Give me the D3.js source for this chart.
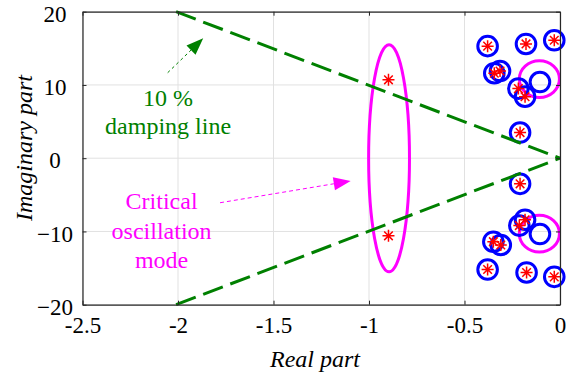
<!DOCTYPE html>
<html>
<head>
<meta charset="utf-8">
<script src="https://cdn.jsdelivr.net/npm/d3@7"></script>
<style>
  body { margin: 0; background: #fff; }
  svg text { font-family: Liberation Serif, DejaVu Serif, Times New Roman, serif; }
</style>
</head>
<body>
<div id="chart"></div>
<script>
'use strict';

// axis ticks
var xTicks = [-2.5, -2, -1.5, -1, -0.5, 0],
    yTicks = [-20, -10, 0, 10, 20];

// eigenvalues without damping control (blue open circles) [real, imag]
var bluePoles = [
    [-0.379, 15.3], [-0.178, 15.6], [-0.030, 16.1],
    [-0.344, 11.6], [-0.314, 11.9], [-0.218, 9.5], [-0.183, 8.4],
    [-0.105, 10.4], [-0.209, 3.5],
    [-0.209, -3.5], [-0.213, -9.2], [-0.183, -8.4], [-0.105, -10.35],
    [-0.349, -11.4], [-0.310, -11.85],
    [-0.379, -15.2], [-0.175, -15.6], [-0.030, -16.2]
];

// eigenvalues with damping control (red asterisks) [real, imag]
var redPoles = [
    [-0.379, 15.3], [-0.178, 15.6], [-0.030, 16.1],
    [-0.344, 11.6], [-0.314, 11.9], [-0.218, 9.5], [-0.183, 8.4],
    [-0.209, 3.5], [-0.898, 10.7],
    [-0.209, -3.5], [-0.213, -9.2], [-0.183, -8.4],
    [-0.349, -11.4], [-0.310, -11.85], [-0.898, -10.6],
    [-0.379, -15.2], [-0.175, -15.6], [-0.030, -16.2]
];

// 10 % damping line: end points [real, imag]
var dampingUpper = [[-2.01, 20], [0, 0]],
    dampingLower = [[-2.01, -20], [0, 0]];

// highlighted modes: [real, imag, real radius, imag radius]
var highlights = [
    [-0.895, 0, 0.107, 15.5],
    [-0.108, 10.8, 0.105, 2.5],
    [-0.108, -10.3, 0.105, 2.5]
];

var outerWidth = 572,
    outerHeight = 375,
    margin = {left: 82.5, right: 12, top: 11.7, bottom: 70.3},
    width = outerWidth - margin.left - margin.right,
    height = outerHeight - margin.top - margin.bottom,
    green = '#008000',
    magenta = '#ff00ff';

var svg = d3.select('#chart').append('svg')
    .attr('width', outerWidth)
    .attr('height', outerHeight);

var g = svg.append('g')
    .attr('transform', 'translate(' + margin.left + ',' + margin.top + ')');

var x = d3.scaleLinear().domain([-2.5, 0]).range([0, width]),
    y = d3.scaleLinear().domain([-20, 20]).range([height, 0]);

// grid
g.append('g').selectAll('line.vgrid').data(xTicks).enter().append('line')
    .attr('x1', function (d) { return x(d); })
    .attr('x2', function (d) { return x(d); })
    .attr('y1', 0).attr('y2', height)
    .attr('stroke', '#e1e1e1').attr('stroke-width', 1);

g.append('g').selectAll('line.hgrid').data(yTicks).enter().append('line')
    .attr('y1', function (d) { return y(d); })
    .attr('y2', function (d) { return y(d); })
    .attr('x1', 0).attr('x2', width)
    .attr('stroke', '#e1e1e1').attr('stroke-width', 1);

// highlight ellipses
g.append('g').selectAll('ellipse').data(highlights).enter().append('ellipse')
    .attr('cx', function (d) { return x(d[0]); })
    .attr('cy', function (d) { return y(d[1]); })
    .attr('rx', function (d) { return x(d[2]) - x(0); })
    .attr('ry', function (d) { return y(0) - y(d[3]); })
    .attr('fill', 'none')
    .attr('stroke', magenta)
    .attr('stroke-width', 3);

// blue circles
g.append('g').selectAll('circle').data(bluePoles).enter().append('circle')
    .attr('cx', function (d) { return x(d[0]); })
    .attr('cy', function (d) { return y(d[1]); })
    .attr('r', 9.8)
    .attr('fill', 'none')
    .attr('stroke', '#0000ff')
    .attr('stroke-width', 3);

// red asterisks
var s = 6, sd = 4.3;
var starPath = 'M' + (-s) + ',0L' + s + ',0M0,' + (-s) + 'L0,' + s +
    'M' + (-sd) + ',' + (-sd) + 'L' + sd + ',' + sd +
    'M' + (-sd) + ',' + sd + 'L' + sd + ',' + (-sd);

g.append('g').selectAll('path').data(redPoles).enter().append('path')
    .attr('transform', function (d) { return 'translate(' + x(d[0]) + ',' + y(d[1]) + ')'; })
    .attr('d', starPath)
    .attr('fill', 'none')
    .attr('stroke', '#ff0000')
    .attr('stroke-width', 1.5);

// damping lines
var line = d3.line()
    .x(function (d) { return x(d[0]); })
    .y(function (d) { return y(d[1]); });

g.append('g').selectAll('path').data([dampingUpper, dampingLower]).enter().append('path')
    .attr('d', line)
    .attr('fill', 'none')
    .attr('stroke', green)
    .attr('stroke-width', 3)
    .attr('stroke-dasharray', '21,8');

// axes (ticks inward, box)
function styleAxis (sel) {
    sel.attr('font-family', null);
    sel.selectAll('path').attr('stroke', '#262626').attr('stroke-width', 1.2);
    sel.selectAll('line').attr('stroke', '#262626');
    sel.selectAll('text').attr('fill', '#000').attr('font-size', 23);
}

g.append('g')
    .attr('transform', 'translate(0,' + height + ')')
    .call(d3.axisBottom(x).tickValues(xTicks).tickSize(-4).tickSizeOuter(0).tickPadding(12)
        .tickFormat(function (d) { return d === 0 ? '0' : String(d); }))
    .call(styleAxis);

g.append('g')
    .call(d3.axisTop(x).tickValues(xTicks).tickSize(-4).tickSizeOuter(0).tickFormat(''))
    .call(styleAxis);

g.append('g')
    .call(d3.axisLeft(y).tickValues(yTicks).tickSize(-4).tickSizeOuter(0))
    .call(styleAxis)
    .selectAll('text')
    .attr('x', 55 - margin.left)
    .attr('dy', '0.42em')
    .attr('text-anchor', 'middle');

g.append('g')
    .attr('transform', 'translate(' + width + ',0)')
    .call(d3.axisRight(y).tickValues(yTicks).tickSize(-4).tickSizeOuter(0).tickFormat(''))
    .call(styleAxis);

// axis titles
svg.append('text')
    .attr('x', 315)
    .attr('y', 366.5)
    .attr('text-anchor', 'middle')
    .attr('font-size', 24)
    .attr('font-style', 'italic')
    .text('Real part');

svg.append('text')
    .attr('transform', 'translate(32,148) rotate(-90)')
    .attr('text-anchor', 'middle')
    .attr('font-size', 24)
    .attr('font-style', 'italic')
    .text('Imaginary part');

// annotation arrows: [from, to] in data units
function drawArrow (from, to, color, dash) {
    var x0 = x(from[0]), y0 = y(from[1]), x1 = x(to[0]), y1 = y(to[1]);
    var dx = x1 - x0, dy = y1 - y0, len = Math.sqrt(dx * dx + dy * dy);
    var ux = dx / len, uy = dy / len, hl = 17, hw = 6.5;
    var bx = x1 - ux * hl, by = y1 - uy * hl;
    g.append('line')
        .attr('x1', x0).attr('y1', y0).attr('x2', bx).attr('y2', by)
        .attr('stroke', color).attr('stroke-width', 1)
        .attr('stroke-dasharray', dash);
    g.append('polygon')
        .attr('points', [[x1, y1], [bx - uy * hw, by + ux * hw], [bx + uy * hw, by - ux * hw]]
            .map(function (p) { return p.join(','); }).join(' '))
        .attr('fill', color);
}

drawArrow([-2.054, 11.67], [-1.868, 16.37], green, '3,3');
drawArrow([-1.780, -6.08], [-1.096, -3.11], magenta, '4,3');

// annotation texts
function drawLabel (lines, cx, baselines, color) {
    var t = g.append('text')
        .attr('text-anchor', 'middle')
        .attr('fill', color)
        .attr('font-size', 24);
    lines.forEach(function (s, i) {
        t.append('tspan').attr('x', x(cx)).attr('y', y(baselines[i])).text(s);
    });
}

drawLabel(['10 %', 'damping line'], -2.052, [7.16, 3.29], green);
drawLabel(['Critical', 'oscillation', 'mode'], -2.086, [-6.98, -11.07, -15.03], magenta);
</script>
</body>
</html>
